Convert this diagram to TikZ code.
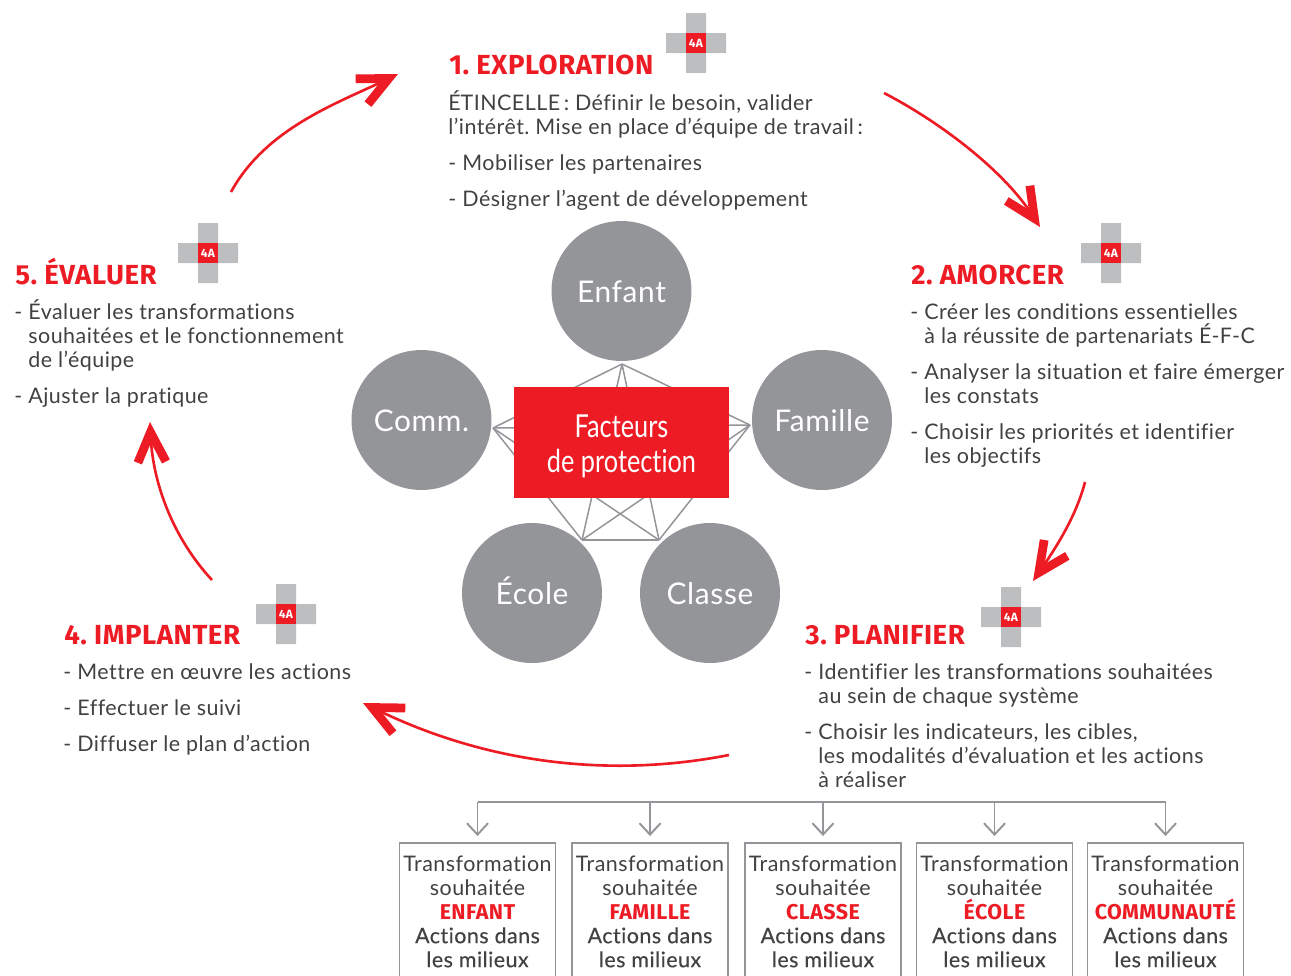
\documentclass[tikz,border=0pt]{standalone}
\usepackage{fontspec}
\usetikzlibrary{arrows.meta}
\setmainfont{Lato}[LetterSpace=2.2,Ligatures=NoCommon]
\newfontfamily\condfont{Lato}[FakeStretch=0.8,Ligatures=NoCommon]
\newfontfamily\medfont{Lato}[FakeBold=0.25,LetterSpace=2.2,Ligatures=NoCommon]
\newfontfamily\grasfont{Fira Sans}[LetterSpace=2.0]
\definecolor{rouge}{HTML}{ED1C24}
\definecolor{gris}{HTML}{939598}
\definecolor{grisclair}{HTML}{BCBEC0}
\definecolor{encre}{HTML}{414042}
\newcommand{\itm}{\strut\makebox[8pt][l]{-}}
\newcommand{\ind}{\hspace*{8pt}}
\newcommand{\gap}{\\[6.8pt]}
\frenchspacing
\tikzset{
	titre/.style={anchor=base west, inner sep=0, text=rouge, font=\fontsize{15.7}{18}\selectfont\grasfont\bfseries},
	corps/.style={anchor=north west, inner sep=0, align=left, text=encre, font=\fontsize{12.2}{13.66}\selectfont},
	rond/.style={circle, fill=gris, minimum size=2.8cm, inner sep=0, text=white, text height=13.5pt, text depth=0pt, font=\fontsize{17}{20}\selectfont},
	fleche/.style={rouge, line width=1.5pt, -{Straight Barb[length=17pt, width=16pt, line width=5pt]}},
	lien/.style={gris, line width=.85pt},
	boite/.style={draw=gris, line width=1.1pt, anchor=north, minimum width=3.12cm, inner xsep=0, inner ysep=6.5pt, align=center, text=encre, font=\fontsize{12.2}{13.66}\selectfont},
	branche/.style={gris, line width=1.1pt, shorten >=3.4pt, -{Straight Barb[length=6.5pt, width=12pt, line width=1.1pt]}},
	croix/.pic={
		\fill[grisclair] (-30,-10) rectangle (30,10) (-10,-30) rectangle (10,30);
		\node[fill=rouge, minimum size=.4cm, inner sep=0, text=white, font=\fontsize{6.8}{8}\selectfont\grasfont\bfseries] {4A};
	}
}
\begin{document}
\begin{tikzpicture}[x=.02cm, y=-.02cm]
	\path[use as bounding box, clip] (0,0) rectangle (1291,975);
	% pentagone
	\coordinate (pe) at (622,364);
	\coordinate (pf) at (750,425);
	\coordinate (pk) at (659,540);
	\coordinate (pl) at (582,540);
	\coordinate (pc) at (493,428);
	\foreach \a/\b in {pe/pf, pe/pk, pe/pl, pe/pc, pf/pk, pf/pl, pf/pc, pk/pl, pk/pc, pl/pc}
		\draw[lien] (\a) -- (\b);
	\node[rond] (enfant) at (621.5,291) {Enfant};
	\node[rond] (famille) at (822,420) {Famille};
	\node[rond] (comm) at (421.5,420) {Comm.};
	\node[rond] (ecole) at (532,593) {École};
	\node[rond] (classe) at (710,593) {Classe};
	\node[fill=rouge, minimum width=4.3cm, minimum height=2.22cm, inner sep=0, align=center, text=white, font=\fontsize{18}{20}\selectfont\condfont] (facteurs) at (621.5,442.5) {\rule{0pt}{17pt}Facteurs\\de protection};

	% etapes
	\node[titre] (t1) at (449,74) {1. EXPLORATION};
	\node[corps] (c1) at (448,93) {\strut\smash{É}TINCELLE\,: Définir le besoin, valider\\l’intérêt. Mise en place d’équipe de travail\,:\gap
		\itm Mobiliser les partenaires\gap
		\itm Désigner l’agent de développement};
	\node[titre] (t2) at (911,284) {2. AMORCER};
	\node[corps] (c2) at (910,302) {\itm Créer les conditions essentielles\\\ind à la réussite de partenariats \smash{É}-F-C\gap
		\itm Analyser la situation et faire émerger\\\ind les constats\gap
		\itm Choisir les priorités et identifier\\\ind les objectifs};
	\node[titre] (t3) at (805,644) {3. PLANIFIER};
	\node[corps] (c3) at (804,662) {\itm Identifier les transformations souhaitées\\\ind au sein de chaque système\gap
		\itm Choisir les indicateurs, les cibles,\\\ind les modalités d’évaluation et les actions\\\ind à réaliser};
	\node[titre] (t4) at (64,644) {4. IMPLANTER};
	\node[corps] (c4) at (63,662) {\itm Mettre en œuvre les actions\gap
		\itm Effectuer le suivi\gap
		\itm Diffuser le plan d’action};
	\node[titre] (t5) at (15,284) {5. ÉVALUER};
	\node[corps] (c5) at (14,302) {\itm \smash{É}valuer les transformations\\\ind souhaitées et le fonctionnement\\\ind de l’équipe\gap
		\itm Ajuster la pratique};
	\pic at (696,43) {croix};
	\pic at (1111,253) {croix};
	\pic at (1011,617) {croix};
	\pic at (286,614) {croix};
	\pic at (208,253) {croix};

	% cycle
	\coordinate (a1) at (231,192);
	\coordinate (b1) at (398,74);
	\coordinate (a2) at (884,93);
	\coordinate (b2) at (1040,227);
	\coordinate (a3) at (1085,482);
	\coordinate (b3) at (1033,581);
	\coordinate (a4) at (729,755);
	\coordinate (b4) at (363,703);
	\coordinate (a5) at (212,580);
	\coordinate (b5) at (150,422);
	\draw[fleche] (a1) .. controls (266,128) and (338,103) .. (b1);
	\draw[fleche] (a2) .. controls (940,122) and (1003,170) .. (b2);
	\draw[fleche] (a3) .. controls (1076,517) and (1055,549) .. (b3);
	\draw[fleche] (a4) .. controls (606,779) and (484,762) .. (b4);
	\draw[fleche] (a5) .. controls (174,539) and (153,485) .. (b5);

	% boites
	\coordinate (barre) at (477,802);
	\foreach \n/\x/\mot in {be/477.5/ENFANT, bf/650/FAMILLE, bk/823/CLASSE, bl/994.5/ÉCOLE, bc/1165.5/COMMUNAUTÉ} {
		\node[boite] (\n) at (\x,842) {\strut Transformation\\souhaitée\\{\color{rouge}\grasfont\bfseries\mot}\\{\medfont Actions dans}\\{\medfont les milieux}\\[6pt]\strut};
		\draw[branche] (barre -| \n.north) -- (\n.north);
	}
	\draw[gris, line width=1.1pt] (barre -| be.north) -- (barre -| bc.north);
\end{tikzpicture}
\end{document}
